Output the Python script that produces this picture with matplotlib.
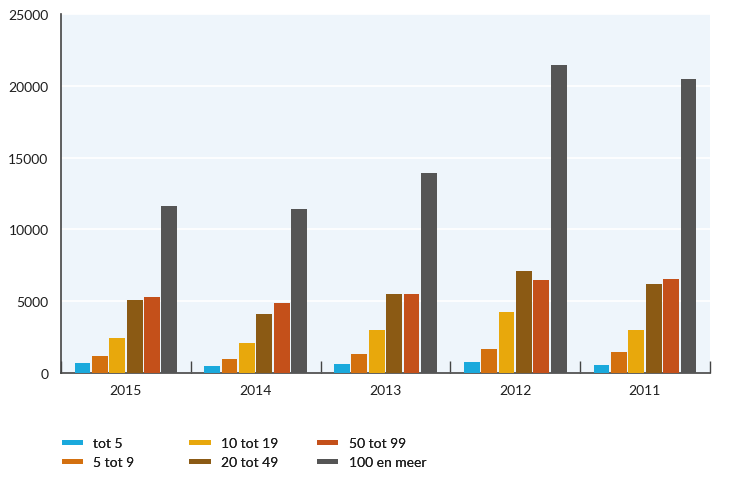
import numpy as np
import matplotlib.pyplot as plt
from matplotlib.lines import Line2D

plt.rcParams['font.family'] = ['Lato', 'DejaVu Sans']

jaren = ['2015', '2014', '2013', '2012', '2011']
klassen = ['tot 5', '5 tot 9', '10 tot 19', '20 tot 49', '50 tot 99', '100 en meer']
kleuren = ['#1aa9dc', '#d3700f', '#e8a80c', '#8b5a14', '#c4501a', '#555555']

tot5 = [700, 500, 650, 760, 560]
tot9 = [1180, 970, 1320, 1670, 1460]
tot19 = [2430, 2080, 3000, 4240, 3000]
tot49 = [5090, 4100, 5500, 7080, 6180]
tot99 = [5260, 4860, 5480, 6460, 6530]
meer100 = [11620, 11450, 13950, 21450, 20480]
reeksen = [tot5, tot9, tot19, tot49, tot99, meer100]

fig = plt.figure(figsize=(7.29, 4.85), dpi=100)
ax = fig.add_axes([0.0837, 0.229, 0.89, 0.74])
ax.set_facecolor('#eef5fb')

x = np.arange(len(jaren))
stap = 0.134
for i, waarden in enumerate(reeksen):
    ax.bar(x + (i - 2.5) * stap, waarden, width=0.122, color=kleuren[i], zorder=3)

ax.set_xlim(-0.5, len(jaren) - 0.5)
ax.set_ylim(0, 25000)
ax.set_yticks(np.arange(0, 25001, 5000))
ax.grid(axis='y', color='white', linewidth=1.2, zorder=1)
ax.set_xticks(x)
ax.set_xticklabels(jaren)
ax.set_xticks(np.arange(len(jaren) + 1) - 0.5, minor=True)
ax.tick_params(axis='x', which='major', length=0, pad=8, labelsize=10, labelcolor='#1e1e1e')
ax.tick_params(axis='x', which='minor', direction='in', length=9, color='#444444', width=1)
ax.tick_params(axis='y', length=0, pad=9, labelsize=10, labelcolor='#1e1e1e')
for s in ['top', 'right']:
    ax.spines[s].set_visible(False)
for s in ['left', 'bottom']:
    ax.spines[s].set_color('#444444')
    ax.spines[s].set_linewidth(1.2)

# legenda in drie kolommen met vaste breedte
kolom_x = [0.07, 0.245, 0.42]
for k in range(3):
    idx = [2 * k, 2 * k + 1]
    handles = [Line2D([0], [0], color=kleuren[j], lw=3.5) for j in idx]
    leg = fig.legend(handles, [klassen[j] for j in idx], loc='upper left',
                     bbox_to_anchor=(kolom_x[k], 0.122), frameon=False, fontsize=10,
                     handlelength=1.2, handletextpad=0.95, labelspacing=0.5,
                     labelcolor='#1e1e1e')
    fig.add_artist(leg)

fig.savefig('out.png', dpi=100)
